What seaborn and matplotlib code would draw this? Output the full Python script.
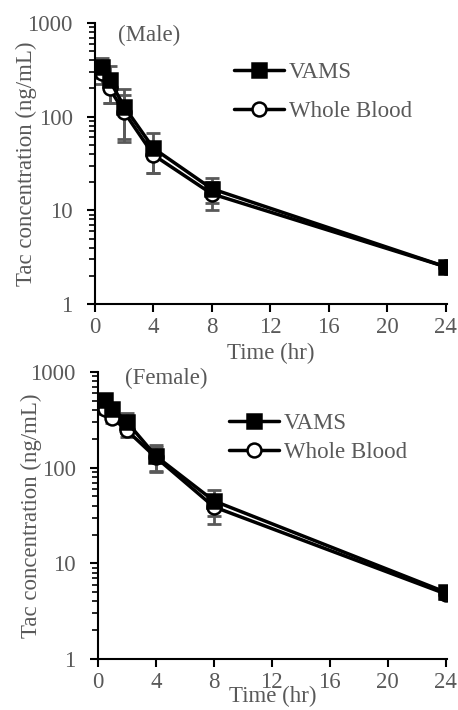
import numpy as np
import pandas as pd
import matplotlib
matplotlib.use('Agg')
import matplotlib.pyplot as plt
import seaborn as sns

## DATA
time_hr = [0.5, 1, 2, 4, 8, 24]

male_vams = [340, 245, 128, 46, 17, 2.5]
male_vams_sd = [80, 105, 70, 21, 5, 0.3]
male_wb = [295, 200, 112, 39, 15, 2.5]
male_wb_sd = [70, 60, 58, 14, 5, 0.3]

female_vams = [510, 415, 300, 132, 45, 5.0]
female_vams_sd = [60, 40, 70, 40, 14, 0.6]
female_wb = [415, 330, 245, 128, 39, 4.8]
female_wb_sd = [50, 40, 35, 38, 13, 0.6]

panels = ['(Male)', '(Female)']
x_ticks = [0, 4, 8, 12, 16, 20, 24]
y_ticks = [1, 10, 100, 1000]

grey = '#595959'
sns.set_style('ticks')
plt.rcParams['font.family'] = ['Liberation Serif', 'DejaVu Serif']
plt.rcParams['font.size'] = 16.5

def make_df(vams, vams_sd, wb, wb_sd):
    rows = []
    for t, v, s in zip(time_hr, vams, vams_sd):
        rows.append({'Time': t, 'Conc': v, 'SD': s, 'Sample': 'VAMS'})
    for t, v, s in zip(time_hr, wb, wb_sd):
        rows.append({'Time': t, 'Conc': v, 'SD': s, 'Sample': 'Whole Blood'})
    return pd.DataFrame(rows)

dfs = [make_df(male_vams, male_vams_sd, male_wb, male_wb_sd),
       make_df(female_vams, female_vams_sd, female_wb, female_wb_sd)]

fig = plt.figure(figsize=(4.58, 7.10), dpi=100)
axes = [fig.add_axes([0.2074, 0.5718, 0.7686, 0.3958]),
        fig.add_axes([0.2140, 0.0718, 0.7620, 0.4042])]

# per-panel layout tweaks: title pos, legend anchor, legend spacing, ylabel x, xlabel pad
layout = [dict(title_xy=(0.066, 0.955), leg_xy=(0.335, 0.935), spacing=0.8, ylab_x=-0.166, xpad=3),
          dict(title_xy=(0.078, 0.976), leg_xy=(0.315, 0.93), spacing=0.35, ylab_x=-0.161, xpad=-5)]

styles = {'VAMS': dict(marker='s', markerfacecolor='black', markersize=10),
          'Whole Blood': dict(marker='o', markerfacecolor='white', markersize=10)}

for ax, df, title, lay in zip(axes, dfs, panels, layout):
    for name in ['Whole Blood', 'VAMS']:
        d = df[df['Sample'] == name]
        ax.errorbar(d['Time'], d['Conc'], yerr=d['SD'], fmt='none', ecolor=grey,
                    elinewidth=2, capsize=5, capthick=2, zorder=1)
    # whole blood first so the VAMS squares sit on top
    for name in ['Whole Blood', 'VAMS']:
        d = df[df['Sample'] == name]
        sns.lineplot(data=d, x='Time', y='Conc', ax=ax, color='black', linewidth=2.5,
                     markeredgecolor='black', markeredgewidth=1.8, label=name,
                     zorder=3, **styles[name])
    ax.set_yscale('log')
    ax.set_ylim(1, 1000)
    ax.set_xlim(0, 24.1)
    ax.set_xticks(x_ticks)
    ax.set_yticks(y_ticks)
    ax.set_yticklabels([str(v) for v in y_ticks])
    ax.tick_params(axis='both', colors='black', labelcolor=grey, direction='out',
                   length=6, width=1.5, labelsize=16.5)
    ax.tick_params(axis='y', which='major', pad=10)
    ax.tick_params(axis='y', which='minor', direction='out', length=4, width=1.2, colors='black')
    for sp in ['top', 'right']:
        ax.spines[sp].set_visible(False)
    for sp in ['left', 'bottom']:
        ax.spines[sp].set_linewidth(1.5)
        ax.spines[sp].set_color('black')
    ax.set_ylabel('Tac concentration (ng/mL)', color=grey, fontsize=16.5)
    ax.yaxis.set_label_coords(lay['ylab_x'], 0.5)
    ax.set_xlabel('Time (hr)', color=grey, fontsize=16.5, labelpad=lay['xpad'])
    ax.text(lay['title_xy'][0], lay['title_xy'][1], title, transform=ax.transAxes,
            color=grey, fontsize=16.5, va='center', ha='left')
    h, l = ax.get_legend_handles_labels()
    leg = ax.legend(h[::-1], l[::-1], loc='upper left', bbox_to_anchor=lay['leg_xy'],
                    frameon=False, handlelength=2.2, handletextpad=0.2,
                    labelspacing=lay['spacing'], fontsize=16.5)
    for txt in leg.get_texts():
        txt.set_color(grey)

fig.savefig('out.png', dpi=100)
